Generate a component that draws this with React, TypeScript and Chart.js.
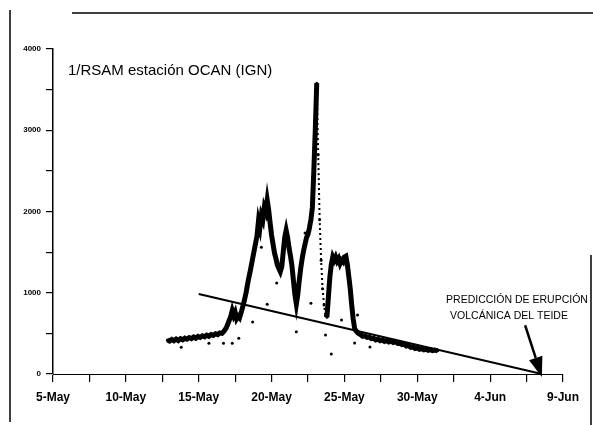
import React, { useEffect, useRef } from "react";
import { Chart, registerables } from "chart.js";

Chart.register(...registerables);

// Days counted from 5-May
const xTickLabels = ["5-May", "10-May", "15-May", "20-May", "25-May", "30-May", "4-Jun", "9-Jun"];
const yTickValues = [0, 1000, 2000, 3000, 4000];

const rsamDays = [
  7.85, 8.0, 8.15, 8.3, 8.45, 8.6, 8.75, 8.9, 9.05, 9.2, 9.35, 9.5, 9.65, 9.8, 9.95, 10.1, 10.25, 10.4, 10.55, 10.7,
  10.85, 11.0, 11.15, 11.3, 11.45, 11.6, 11.75, 11.9, 12.05, 12.2, 12.3, 12.4, 12.5, 12.6, 12.7, 12.8, 12.95, 13.1,
  13.25, 13.4, 13.55, 13.7, 13.85, 14.0, 14.1, 14.2, 14.3, 14.4, 14.5, 14.6, 14.7, 14.8, 14.9, 15.0, 15.1, 15.2, 15.3,
  15.4, 15.5, 15.6, 15.7, 15.8, 15.9, 16.0, 16.1, 16.2, 16.3, 16.4, 16.5, 16.6, 16.7, 16.8, 16.9, 17.0, 17.1, 17.2,
  17.3, 17.4, 17.5, 17.6, 17.7, 17.8, 17.9, 18.0, 18.1, 18.2, 18.3, 18.4, 18.5, 18.6, 18.7, 18.8, 18.9, 19.0, 19.1,
  19.2, 19.3, 19.4, 19.5, 19.6, 19.7, 19.8, 19.9, 20.0, 20.1, 20.2, 20.3, 20.4, 20.5, 20.6, 20.7, 20.8, 20.95, 21.1,
  21.25, 21.4, 21.55, 21.7, 21.85, 22.0, 22.15, 22.3, 22.45, 22.6, 22.75, 22.9, 23.05, 23.2, 23.35, 23.5, 23.65, 23.8,
  23.95, 24.1, 24.25, 24.4, 24.55, 24.7, 24.85, 25.0, 25.15, 25.3, 25.45, 25.6, 25.75, 25.9, 26.05, 26.2, 26.4,
];
const rsamValues = [
  420, 405, 425, 410, 430, 412, 435, 420, 440, 428, 448, 435, 455, 440, 462, 450, 470, 458, 478, 465,
  485, 475, 495, 485, 505, 500, 530, 570, 640, 710, 780, 720, 760, 680, 710, 690, 780, 880,
  1000, 1150, 1280, 1420, 1560, 1700, 1880, 1800, 1950, 1900, 2050, 2000, 2140, 2020, 1860, 1710, 1600, 1490, 1420,
  1340, 1300, 1260, 1320, 1500, 1680, 1770, 1680, 1550, 1450, 1330, 1150, 980, 860, 980, 1150, 1300, 1420, 1520,
  1600, 1680, 1720, 1800, 1900, 2050, 2500, 3000, 3580, 2700, 1900, 1400, 1050, 850, 720, 700, 950, 1190, 1350,
  1440, 1400, 1440, 1390, 1420, 1360, 1400, 1380, 1440, 1450, 1350, 1200, 1050, 850, 680, 560, 530, 500, 485,
  465, 470, 450, 455, 435, 440, 420, 428, 410, 420, 402, 412, 395, 405, 388, 398, 378, 385,
  362, 368, 345, 350, 328, 335, 315, 322, 305, 312, 298, 305, 292, 300, 288, 295, 285,
];

const outlierDays = [8.8, 10.7, 11.7, 12.3, 12.75, 13.7, 14.3, 14.7, 15.35, 16.7, 17.3, 17.7, 18.7, 19.1, 19.8, 20.7, 20.9, 21.75];
const outlierValues = [330, 380, 380, 380, 440, 640, 1560, 860, 1120, 520, 1735, 870, 480, 246, 665, 381, 726, 332];

const trendDays = [10, 33.55];
const trendValues = [985, 0];

const titleText = "1/RSAM estación OCAN (IGN)";
const noteLines = ["PREDICCIÓN DE ERUPCIÓN", "VOLCÁNICA DEL TEIDE"];

const overlayPlugin = {
  id: "overlay",
  afterDraw(chart: any) {
    const ctx = chart.ctx;
    const xs = chart.scales.x;
    const ys = chart.scales.y;
    ctx.save();
    // scan frame
    ctx.strokeStyle = "#000";
    ctx.lineWidth = 1.5;
    ctx.beginPath();
    ctx.moveTo(10, 10);
    ctx.lineTo(10, 422);
    ctx.moveTo(72, 13);
    ctx.lineTo(593, 13);
    ctx.moveTo(591, 255);
    ctx.lineTo(591, 425);
    ctx.stroke();

    // title
    ctx.fillStyle = "#000";
    ctx.font = '15px "Liberation Sans", Arial, sans-serif';
    ctx.textAlign = "left";
    ctx.textBaseline = "alphabetic";
    ctx.fillText(titleText, 68, 75);

    // note
    ctx.font = '10.5px "Liberation Sans", Arial, sans-serif';
    ctx.textAlign = "center";
    ctx.fillText(noteLines[0], 517, 303);
    ctx.fillText(noteLines[1], 509, 319);

    // arrow
    const tx = xs.getPixelForValue(32.4);
    const ty = ys.getPixelForValue(600);
    const hx = xs.getPixelForValue(33.55);
    const hy = ys.getPixelForValue(0) + 3;
    const ang = Math.atan2(hy - ty, hx - tx);
    const headLen = 20;
    const headW = 7;
    const bx = hx - headLen * Math.cos(ang);
    const by = hy - headLen * Math.sin(ang);
    ctx.lineWidth = 2.5;
    ctx.beginPath();
    ctx.moveTo(tx, ty);
    ctx.lineTo(bx, by);
    ctx.stroke();
    ctx.beginPath();
    ctx.moveTo(hx, hy);
    ctx.lineTo(bx + headW * Math.sin(ang), by - headW * Math.cos(ang));
    ctx.lineTo(bx - headW * Math.sin(ang), by + headW * Math.cos(ang));
    ctx.closePath();
    ctx.fill();
    ctx.restore();
  },
};

export default function App() {
  const canvasRef = useRef<HTMLCanvasElement | null>(null);

  useEffect(() => {
    const canvas = canvasRef.current;
    if (!canvas) return;
    const chart = new Chart(canvas, {
      type: "line",
      data: {
        datasets: [
          {
            label: "1/RSAM",
            data: rsamDays.map((d, i) => ({ x: d, y: rsamValues[i] })),
            borderColor: "#000",
            backgroundColor: "#000",
            borderWidth: 5,
            pointRadius: 1.5,
            pointBorderWidth: 0,
            tension: 0,
            segment: {
              borderDash: (c: any) => (c.p0.parsed.x >= 18.1 && c.p1.parsed.x <= 18.85 ? [2, 3] : undefined),
              borderWidth: (c: any) => (c.p0.parsed.x >= 18.1 && c.p1.parsed.x <= 18.85 ? 2 : undefined),
            },
          },
          {
            label: "outliers",
            data: outlierDays.map((d, i) => ({ x: d, y: outlierValues[i] })),
            showLine: false,
            borderColor: "#000",
            backgroundColor: "#000",
            pointRadius: 1.5,
            pointBorderWidth: 0,
          },
          {
            label: "trend",
            data: trendDays.map((d, i) => ({ x: d, y: trendValues[i] })),
            borderColor: "#000",
            borderWidth: 2,
            pointRadius: 0,
          },
        ],
      },
      options: {
        animation: false,
        responsive: true,
        maintainAspectRatio: false,
        devicePixelRatio: 1,
        layout: { padding: { top: 49, right: 30, left: 0, bottom: 0 } },
        plugins: { legend: { display: false }, tooltip: { enabled: false }, title: { display: false } },
        scales: {
          x: {
            type: "linear",
            min: 0,
            max: 35,
            afterFit: (s: any) => {
              s.height = 51;
            },
            afterBuildTicks: (s: any) => {
              const t = [];
              for (let v = 0; v <= 35; v += 2.5) t.push({ value: v });
              s.ticks = t;
            },
            ticks: {
              autoSkip: false,
              maxRotation: 0,
              padding: 8,
              color: "#000",
              font: { family: '"Liberation Sans Narrow", "Liberation Sans", Arial, sans-serif', size: 12, weight: "bold" },
              callback: (v: any) => (Number(v) % 5 === 0 ? xTickLabels[Number(v) / 5] : ""),
            },
            grid: { drawOnChartArea: false, drawTicks: true, tickLength: 8, color: "#000", lineWidth: 1.2 },
            border: { display: true, color: "#000", width: 1, dash: [2, 2] },
          },
          y: {
            type: "linear",
            min: 0,
            max: 4000,
            afterFit: (s: any) => {
              s.width = 53;
            },
            afterBuildTicks: (s: any) => {
              const t = [];
              for (let v = 0; v <= 4000; v += 500) t.push({ value: v });
              s.ticks = t;
            },
            ticks: {
              autoSkip: false,
              padding: 5,
              color: "#000",
              font: { family: '"Liberation Sans Narrow", "Liberation Sans", Arial, sans-serif', size: 8, weight: "bold" },
              callback: (v: any) => (yTickValues.includes(Number(v)) ? String(v) : ""),
            },
            grid: { drawOnChartArea: false, drawTicks: true, tickLength: 7, color: "#000", lineWidth: 1.2 },
            border: { display: true, color: "#000", width: 1.5 },
          },
        },
      },
      plugins: [overlayPlugin],
    } as any);
    return () => chart.destroy();
  }, []);

  return (
    <div style={{ position: "fixed", left: 0, top: 0, width: 593, height: 425, background: "#fff" }}>
      <canvas ref={canvasRef} />
    </div>
  );
}
